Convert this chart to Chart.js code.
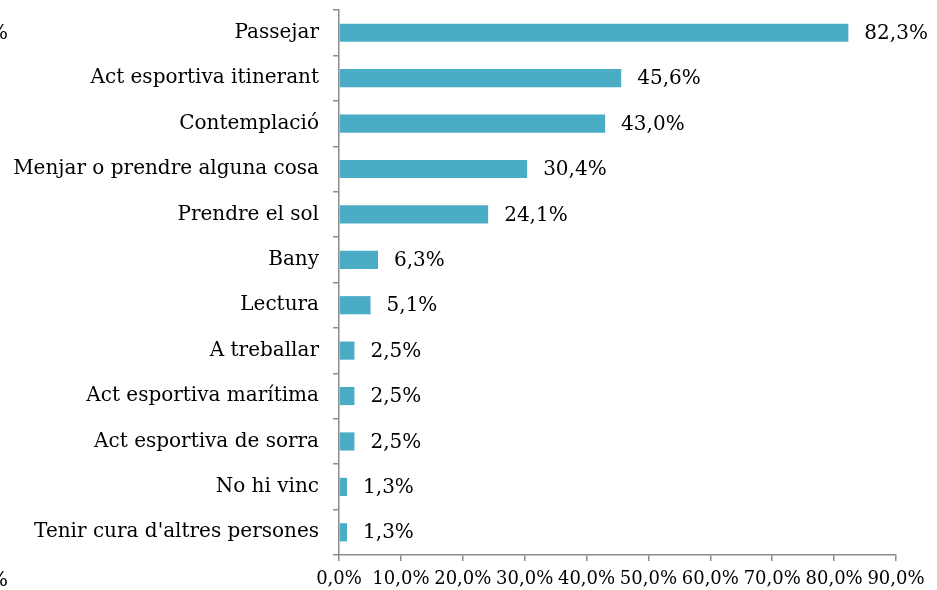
<!DOCTYPE html>
<html>
<head>
<meta charset="utf-8">
<script src="https://cdn.jsdelivr.net/npm/chart.js@4"></script>
<style>
    html, body { margin: 0; padding: 0; background: #ffffff; }
    #wrap { position: relative; width: 937px; height: 590px; }
</style>
</head>
<body>
<div id="wrap"><canvas id="activitatsChart"></canvas></div>
<script>
// Activities (top to bottom) and their share of respondents (%)
const categories = [
    'Passejar',
    'Act esportiva itinerant',
    'Contemplació',
    'Menjar o prendre alguna cosa',
    'Prendre el sol',
    'Bany',
    'Lectura',
    'A treballar',
    'Act esportiva marítima',
    'Act esportiva de sorra',
    'No hi vinc',
    "Tenir cura d'altres persones"
];
const values = [82.3, 45.6, 43.0, 30.4, 24.1, 6.3, 5.1, 2.5, 2.5, 2.5, 1.3, 1.3];
const xTicks = [0, 10, 20, 30, 40, 50, 60, 70, 80, 90];

const FONT = "'DejaVu Serif', 'Liberation Serif', serif";
const AXIS = '#8c8c8c';
const BAR = '#4bacc6';

function pct(v) {
    return v.toFixed(1).replace('.', ',') + '%';
}

// Value labels after each bar
const barLabels = {
    id: 'barLabels',
    afterDatasetsDraw(chart) {
        const ctx = chart.ctx;
        const meta = chart.getDatasetMeta(0);
        ctx.save();
        ctx.font = '20px ' + FONT;
        ctx.fillStyle = '#000000';
        ctx.textAlign = 'left';
        ctx.textBaseline = 'middle';
        meta.data.forEach(function(bar, i) {
            ctx.fillText(pct(values[i]), bar.x + 16, bar.y + 1);
        });
        // cut-off text at the left edge of the original picture
        ctx.fillText('%', -11, 34);
        ctx.fillText('%', -11, 581);
        ctx.restore();
    }
};

new Chart(document.getElementById('activitatsChart'), {
    type: 'bar',
    data: {
        labels: categories,
        datasets: [{
            data: values,
            backgroundColor: BAR,
            borderWidth: 0,
            categoryPercentage: 1,
            barPercentage: 0.4
        }]
    },
    options: {
        indexAxis: 'y',
        responsive: true,
        maintainAspectRatio: false,
        animation: false,
        layout: {
            padding: { top: 10, right: 41, bottom: 0, left: 0 }
        },
        scales: {
            x: {
                min: 0,
                max: 90,
                afterBuildTicks: function(scale) {
                    scale.ticks = xTicks.map(function(v) { return { value: v }; });
                },
                afterFit: function(scale) { scale.height = 35; },
                ticks: {
                    color: '#000000',
                    font: { family: FONT, size: 18 },
                    padding: 8,
                    maxRotation: 0,
                    autoSkip: false,
                    callback: function(v) { return pct(v); }
                },
                grid: {
                    drawOnChartArea: false,
                    color: AXIS,
                    tickLength: 6,
                    lineWidth: 1.5
                },
                border: { color: AXIS, width: 1.5 }
            },
            y: {
                afterFit: function(scale) {
                    scale.width = 339;
                    scale.paddingTop = 0;
                    scale.paddingBottom = 0;
                },
                ticks: {
                    color: '#000000',
                    font: { family: FONT, size: 20 },
                    padding: 14,
                    autoSkip: false
                },
                grid: {
                    offset: true,
                    drawOnChartArea: false,
                    color: AXIS,
                    tickLength: 6,
                    lineWidth: 1.5
                },
                border: { color: AXIS, width: 1.5 }
            }
        },
        plugins: {
            legend: { display: false },
            tooltip: { enabled: false }
        }
    },
    plugins: [barLabels]
});
</script>
</body>
</html>
